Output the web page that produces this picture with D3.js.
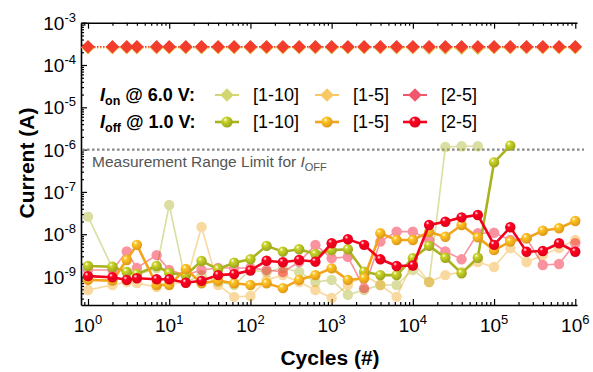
<!DOCTYPE html>
<html>
<head>
<meta charset="utf-8">
<script src="https://cdn.jsdelivr.net/npm/d3@7"></script>
<style>
  body { margin: 0; background: #fff; }
  text { font-family: Arial, "Liberation Sans", sans-serif; }
</style>
</head>
<body>
<svg id="chart" width="593" height="372"></svg>
<script>
// Switching cycles at which each read was taken
const cycles = [1, 2, 3, 4, 7, 10, 16, 25, 40, 63, 100, 158, 251, 398, 631, 1000, 1585, 2512,
  3981, 6310, 10000, 15849, 25119, 39811, 63096, 100000, 158489, 251189, 398107, 630957, 1000000];

// ON-state current read at 6.0 V (A)
const ionDev110 = [2.55e-4, 2.55e-4, 2.55e-4, 2.55e-4, 2.55e-4, 2.55e-4, 2.55e-4, 2.55e-4, 2.55e-4, 2.55e-4,
  2.55e-4, 2.55e-4, 2.55e-4, 2.55e-4, 2.55e-4, 2.55e-4, 2.55e-4, 2.55e-4, 2.55e-4, 2.55e-4,
  2.55e-4, 2.5e-4, 2.5e-4, 2.45e-4, 2.45e-4, 2.55e-4, 2.55e-4, 2.55e-4, 2.55e-4, 2.55e-4, 2.55e-4];
const ionDev15 = [2.6e-4, 2.6e-4, 2.6e-4, 2.6e-4, 2.6e-4, 2.6e-4, 2.6e-4, 2.6e-4, 2.6e-4, 2.6e-4,
  2.6e-4, 2.6e-4, 2.6e-4, 2.6e-4, 2.6e-4, 2.6e-4, 2.6e-4, 2.6e-4, 2.6e-4, 2.6e-4,
  2.6e-4, 2.6e-4, 2.6e-4, 2.6e-4, 2.6e-4, 2.6e-4, 2.6e-4, 2.6e-4, 2.6e-4, 2.6e-4, 2.6e-4];
const ionDev25 = [2.7e-4, 2.7e-4, 2.7e-4, 2.7e-4, 2.7e-4, 2.7e-4, 2.7e-4, 2.7e-4, 2.7e-4, 2.7e-4,
  2.7e-4, 2.7e-4, 2.7e-4, 2.7e-4, 2.7e-4, 2.7e-4, 2.7e-4, 2.7e-4, 2.7e-4, 2.7e-4,
  2.7e-4, 2.7e-4, 2.7e-4, 2.7e-4, 2.7e-4, 2.7e-4, 2.7e-4, 2.7e-4, 2.7e-4, 2.7e-4, 2.7e-4];

// OFF-state current read at 1.0 V (A), highlighted devices
const ioffDev110 = [1.77e-9, 1.7e-9, 1.28e-9, 1.15e-9, 1.77e-9, 1.21e-9, 1.08e-9, 2.32e-9, 1.5e-9, 2.12e-9,
  2.55e-9, 5.3e-9, 3.86e-9, 4.4e-9, 3.4e-9, 4.2e-9, 4.4e-9, 1.3e-9, 1.08e-9, 1.08e-9,
  2.7e-9, 5.3e-9, 2.78e-9, 1.19e-9, 2.78e-9, 5.0e-7, 1.24e-6];
const ioffDev15 = [8.3e-10, 8.0e-10, 2.45e-9, 5.6e-9, 6.3e-10, 6.3e-10, 1.5e-9, 6.9e-10, 8.0e-10, 6.9e-10,
  6.3e-10, 6.9e-10, 5.3e-10, 8.3e-10, 1.08e-9, 1.56e-9, 8.3e-10, 9.1e-10, 1.05e-8, 7.3e-9,
  7.3e-9, 1.13e-8, 8.7e-9, 1.65e-8, 8.4e-9, 4.2e-9, 6.7e-9, 8.0e-9, 1.21e-8, 1.38e-8, 2.05e-8];
const ioffDev25 = [1.02e-9, 9.6e-10, 8.3e-10, 9.1e-10, 8.6e-10, 8.6e-10, 7.1e-10, 7.9e-10, 1.08e-9, 1.14e-9,
  1.39e-9, 2.36e-9, 2.17e-9, 2.45e-9, 2.24e-9, 6.1e-9, 7.6e-9, 5.6e-9, 2.55e-9, 1.77e-9,
  1.82e-9, 1.65e-8, 1.97e-8, 2.5e-8, 2.84e-8, 5.6e-9, 1.46e-8, 3.85e-9, 4.0e-9, 6.1e-9, 3.85e-9];

// OFF-state current of the companion devices (drawn faded)
const ioffAlt110 = [2.6e-8, 1.59e-9, 1.28e-9, 1.08e-9, 1.59e-9, 4.9e-8, 7.4e-10, 1.08e-9, 7.4e-10, 6.3e-10,
  1.43e-9, 1.28e-9, 1.59e-9, 1.28e-9, 7.4e-10, 8.3e-10, 3.7e-10, 4.8e-10, 6.3e-10, 6.3e-10,
  1.43e-9, 7.4e-10, 1.15e-6, 1.2e-6, 1.2e-6];
const ioffAlt15 = [4.8e-10, 6.3e-10, 7.4e-10, 7.0e-10, 5.6e-10, 7.0e-10, 7.0e-10, 1.48e-8, 6.3e-10, 3.3e-10,
  3.45e-10, 8.3e-10, 1.08e-9, 7.4e-10, 4.8e-10, 3.1e-10, 6.3e-10, 1.08e-9, 6.3e-10, 3.3e-10,
  2.2e-9, 7.4e-10, 1.08e-9, 1.28e-9, 2.2e-9, 1.68e-9, 4.7e-9, 2.2e-9, 3.2e-9, 4.7e-9, 7.3e-9];
const ioffAlt25 = [1.43e-9, 1.43e-9, 3.9e-9, 1.59e-9, 3.2e-9, 1.43e-9, 1.08e-9, 1.43e-9, 1.59e-9, 1.59e-9,
  1.59e-9, 1.43e-9, 1.28e-9, 2.2e-9, 5.6e-9, 2.7e-9, 2.9e-9, 5.3e-10, 6.7e-9, 1.15e-8,
  1.15e-8, 7.3e-9, 3.9e-9, 2.55e-9, 1.05e-8, 1.08e-8, 7.3e-9, 8.0e-9, 1.87e-9, 1.97e-9, 6.1e-9];

const limitValue = 1e-6;
const deviceLabels = ["[1-10]", "[1-5]", "[2-5]"];
const xDecades = [1, 10, 100, 1000, 10000, 100000, 1000000];
const yDecades = [1e-9, 1e-8, 1e-7, 1e-6, 1e-5, 1e-4, 1e-3];

const colors = { olive: "#a9b21f", orange: "#f2a51c", red: "#f2001c" };
const ionColors = { olive: "#d3d56e", orange: "#f7c865", red: "#f23c2c", pink: "#f2566c" };

const svg = d3.select("#chart");
const x = d3.scaleLog().domain([0.82, 1.05e6]).range([81, 577]);
const y = d3.scaleLog().domain([2.12e-10, 1e-3]).range([305, 22.7]);

// sphere-like gradients for the highlighted markers
const defs = svg.append("defs");
Object.entries(colors).forEach(([k, c]) => {
  const g = defs.append("radialGradient").attr("id", "sph-" + k)
    .attr("cx", "0.38").attr("cy", "0.35").attr("r", "0.65")
    .attr("fx", "0.35").attr("fy", "0.3");
  g.append("stop").attr("offset", "0").attr("stop-color", "#ffffff");
  g.append("stop").attr("offset", "0.28").attr("stop-color", d3.color(c).brighter(0.5));
  g.append("stop").attr("offset", "1").attr("stop-color", d3.color(c).darker(0.25));
});

// minor tick values
function minors(lo, hi) {
  const out = [];
  for (let e = Math.floor(Math.log10(lo)); e <= Math.ceil(Math.log10(hi)); e++) {
    for (let k = 2; k <= 9; k++) {
      const v = k * Math.pow(10, e);
      if (v > lo && v < hi) out.push(v);
    }
  }
  return out;
}
const xMinor = minors(0.82, 1.05e6);
const yMinor = minors(2.12e-10, 1e-3);

function styleAxis(g) {
  g.select(".domain").attr("stroke", "#000").attr("stroke-width", 1.6);
  g.selectAll(".tick line").attr("stroke", "#000").attr("stroke-width", 1.2);
}

// bottom axis
const gB = svg.append("g").attr("transform", "translate(0,305)");
gB.call(d3.axisBottom(x).tickValues(xDecades).tickSize(-6).tickSizeOuter(0).tickFormat(""));
gB.append("g").call(d3.axisBottom(x).tickValues(xMinor).tickSize(-3).tickSizeOuter(0).tickFormat(""))
  .call(g => g.select(".domain").remove());
styleAxis(gB);
// top axis
const gT = svg.append("g").attr("transform", "translate(0,22.7)");
gT.call(d3.axisTop(x).tickValues(xDecades).tickSize(-6).tickSizeOuter(0).tickFormat(""));
gT.append("g").call(d3.axisTop(x).tickValues(xMinor).tickSize(-3).tickSizeOuter(0).tickFormat(""))
  .call(g => g.select(".domain").remove());
styleAxis(gT);
// left axis
const gL = svg.append("g").attr("transform", "translate(81,0)");
gL.call(d3.axisLeft(y).tickValues(yDecades).tickSize(-6).tickSizeOuter(0).tickFormat(""));
gL.append("g").call(d3.axisLeft(y).tickValues(yMinor).tickSize(-3).tickSizeOuter(0).tickFormat(""))
  .call(g => g.select(".domain").remove());
styleAxis(gL);

// tick labels as 10 with superscript exponents
xDecades.forEach(v => {
  const t = svg.append("text").attr("x", x(v)).attr("y", 332)
    .attr("text-anchor", "middle").attr("font-size", 19);
  t.append("tspan").text("10");
  t.append("tspan").attr("dy", -8).attr("font-size", 13).text(Math.round(Math.log10(v)));
});
yDecades.forEach(v => {
  const t = svg.append("text").attr("x", 76).attr("y", y(v) + 7)
    .attr("text-anchor", "end").attr("font-size", 19);
  t.append("tspan").text("10");
  t.append("tspan").attr("dy", -8).attr("font-size", 13).text("-" + Math.abs(Math.round(Math.log10(v))));
});

// axis titles
svg.append("text").attr("transform", "translate(34,163) rotate(-90)")
  .attr("text-anchor", "middle").attr("font-size", 21).attr("font-weight", "bold").text("Current (A)");
svg.append("text").attr("x", 330).attr("y", 365)
  .attr("text-anchor", "middle").attr("font-size", 21).attr("font-weight", "bold").text("Cycles (#)");

// measurement range limit
svg.append("line").attr("x1", 82).attr("x2", 584).attr("y1", y(limitValue)).attr("y2", y(limitValue))
  .attr("stroke", "#8a8a8a").attr("stroke-width", 2.4).attr("stroke-dasharray", "2.6,2.4");
const lt = svg.append("text").attr("x", 92).attr("y", y(limitValue) + 17)
  .attr("font-size", 15.5).attr("fill", "#555");
lt.append("tspan").text("Measurement Range Limit for ");
lt.append("tspan").attr("font-style", "italic").text("I");
lt.append("tspan").attr("dy", 4).attr("font-size", 11).text("OFF");

const zip = vals => vals.map((v, i) => [cycles[i], v]);
const line = d3.line().x(d => x(d[0])).y(d => y(d[1]));
const plot = svg.append("g");

// faded companion devices
[[ioffAlt110, colors.olive], [ioffAlt15, colors.orange], [ioffAlt25, colors.red]].forEach(([vals, c]) => {
  const g = plot.append("g").attr("opacity", 0.42);
  const d = zip(vals);
  g.append("path").datum(d).attr("d", line).attr("fill", "none").attr("stroke", c).attr("stroke-width", 1.6);
  g.selectAll("circle").data(d).join("circle")
    .attr("cx", p => x(p[0])).attr("cy", p => y(p[1])).attr("r", 5.2).attr("fill", c);
});

// highlighted devices
[[ioffDev110, "olive"], [ioffDev15, "orange"], [ioffDev25, "red"]].forEach(([vals, k]) => {
  const g = plot.append("g");
  const d = zip(vals);
  g.append("path").datum(d).attr("d", line).attr("fill", "none").attr("stroke", colors[k]).attr("stroke-width", 2.6);
  g.selectAll("circle").data(d).join("circle")
    .attr("cx", p => x(p[0])).attr("cy", p => y(p[1])).attr("r", 5.2).attr("fill", `url(#sph-${k})`);
});

// ON-state currents
const diamond = d3.symbol().type(d3.symbolSquare).size(92);
[[ionDev110, ionColors.olive], [ionDev15, ionColors.orange], [ionDev25, ionColors.red]].forEach(([vals, c]) => {
  const g = plot.append("g");
  const d = zip(vals);
  g.append("path").datum(d).attr("d", line).attr("fill", "none").attr("stroke", c)
    .attr("stroke-width", 1.5).attr("stroke-dasharray", "1.5,1.5");
  g.selectAll("path.m").data(d).join("path").attr("class", "m")
    .attr("d", diamond).attr("fill", c)
    .attr("transform", p => `translate(${x(p[0])},${y(p[1])}) rotate(45)`);
});

// legend
const leg = svg.append("g");
function rowTitle(yy, sub, volt) {
  const t = leg.append("text").attr("x", 100).attr("y", yy + 6).attr("font-size", 18).attr("font-weight", "bold");
  t.append("tspan").attr("font-style", "italic").text("I");
  t.append("tspan").attr("dy", 4).attr("font-size", 12.5).text(sub);
  t.append("tspan").attr("dy", -4).text(" @ " + volt + ":");
}
rowTitle(95, "on", "6.0 V");
rowTitle(122, "off", "1.0 V");
const legX = [227, 327, 415];
const legIon = [ionColors.olive, ionColors.orange, ionColors.pink];
const legOff = ["olive", "orange", "red"];
deviceLabels.forEach((lab, i) => {
  const cx = legX[i];
  leg.append("line").attr("x1", cx - 12).attr("x2", cx + 12).attr("y1", 95).attr("y2", 95)
    .attr("stroke", legIon[i]).attr("stroke-width", 2);
  leg.append("path").attr("d", diamond).attr("fill", legIon[i])
    .attr("transform", `translate(${cx},95) rotate(45)`);
  leg.append("line").attr("x1", cx - 12).attr("x2", cx + 12).attr("y1", 122).attr("y2", 122)
    .attr("stroke", colors[legOff[i]]).attr("stroke-width", 2.6);
  leg.append("circle").attr("cx", cx).attr("cy", 122).attr("r", 5.6).attr("fill", `url(#sph-${legOff[i]})`);
  [95, 122].forEach(yy => leg.append("text").attr("x", cx + 26).attr("y", yy + 6)
    .attr("font-size", 18).text(lab));
});
</script>
</body>
</html>
